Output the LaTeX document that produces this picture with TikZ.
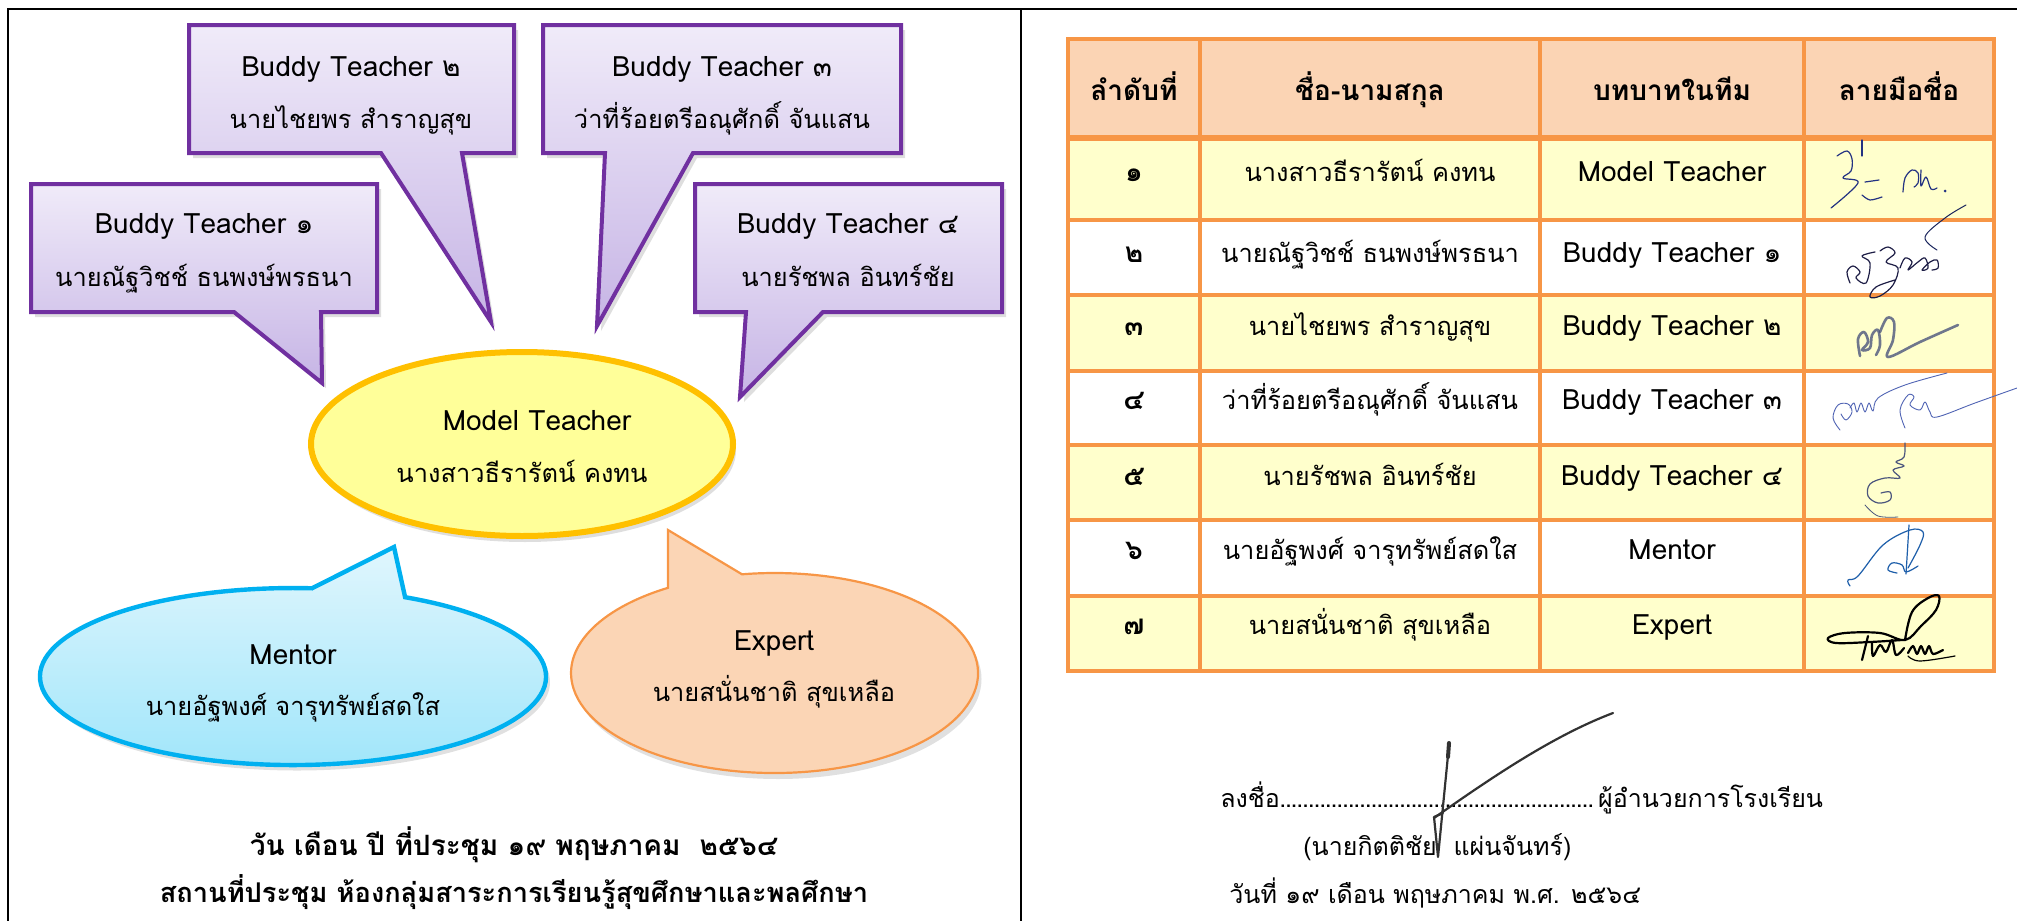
\documentclass[tikz,border=0pt]{standalone}
\usepackage{fontspec}
\setmainfont[Script=Thai]{Loma}
\definecolor{purp}{RGB}{112,48,160}
\definecolor{lavtop}{RGB}{240,235,249}
\definecolor{lavbot}{RGB}{198,180,229}
\definecolor{mtfill}{RGB}{255,255,153}
\definecolor{mtdraw}{RGB}{255,192,0}
\definecolor{cyantop}{RGB}{224,246,253}
\definecolor{cyanbot}{RGB}{158,229,250}
\definecolor{cyandraw}{RGB}{0,176,240}
\definecolor{peach}{RGB}{251,213,181}
\definecolor{tord}{RGB}{247,150,70}
\definecolor{rowyel}{RGB}{255,255,204}
\definecolor{headfill}{RGB}{251,212,180}
\definecolor{sigA}{RGB}{35,50,130}
\definecolor{sigB}{RGB}{30,30,70}
\definecolor{sigC}{RGB}{75,85,125}
\definecolor{sigD}{RGB}{80,100,180}
\definecolor{sigE}{RGB}{30,95,170}
\definecolor{sigP}{RGB}{50,50,50}
\newcommand{\mydots}[1]{\hbox to #1{\leaders\hbox to 2.85pt{\hss.\hss}\hfill}}
\tikzset{
  callout/.style={draw=purp, line width=2pt, line join=miter, top color=lavtop, bottom color=lavbot,
     preaction={fill=black, opacity=0.13, transform canvas={xshift=2pt, yshift=-2.5pt}}},
  txt/.style={anchor=base, inner sep=0pt, font=\fontsize{14}{16}\selectfont},
  thtxt/.style={anchor=base, inner sep=0pt, font=\fontsize{12.7}{15}\selectfont},
  btxt/.style={anchor=base, inner sep=0pt, font=\bfseries\fontsize{14}{16}\selectfont},
  bbtxt/.style={anchor=base, inner sep=0pt, font=\bfseries\fontsize{13.6}{16}\selectfont},
  ltxt/.style={anchor=base west, inner sep=0pt, font=\fontsize{12.5}{15}\selectfont},
  tline/.style={draw=tord, line width=2pt},
  frame/.style={draw=black, line width=1.3pt},
  sig/.style={line width=0.6pt, line cap=round, line join=round},
}
\begin{document}
\begin{tikzpicture}[x=0.5pt,y=-0.5pt]
\useasboundingbox (0,0) rectangle (2017,921);
% page frame
\draw[frame] (7,9) -- (2017,9);
\draw[frame] (8,9) -- (8,921);
\draw[frame] (1021,9) -- (1021,921);

% ---------- callouts ----------
\path[callout] (189,25) -- (514,25) -- (514,153) -- (462,153) -- (491,322) -- (381,153) -- (189,153) -- cycle;
\path[callout] (543,25) -- (901,25) -- (901,153) -- (693,153) -- (597,326) -- (605,153) -- (543,153) -- cycle;
\path[callout] (31,184) -- (377,184) -- (377,312) -- (321,312) -- (322,383) -- (234,312) -- (31,312) -- cycle;
\path[callout] (695,184) -- (1002,184) -- (1002,312) -- (823,312) -- (740,397) -- (746,312) -- (695,312) -- cycle;

% model teacher ellipse
\fill[black, opacity=0.13] (525,450) ellipse [x radius=211, y radius=92];
\draw[draw=mtdraw, fill=mtfill, line width=3pt] (522,444) ellipse [x radius=211, y radius=92];

% mentor callout
\fill[black, opacity=0.12] (297,682) ellipse [x radius=253, y radius=88.5];
\path[draw=cyandraw, line width=2.2pt, top color=cyantop, bottom color=cyanbot]
  (405.1,597.2) arc[start angle=-63.7, end angle=274.3, x radius=253, y radius=88.5]
  -- (394,547) -- cycle;

% expert callout
\fill[black, opacity=0.12] (778,679) ellipse [x radius=203.5, y radius=100];
\path[draw=tord, line width=1.1pt, fill=peach]
  (742,574.3) arc[start angle=-99.2, end angle=238.4, x radius=203.5, y radius=100]
  -- (668,530) -- cycle;

% texts in diagram
\node[txt] (bt2a) at (351,76) {Buddy Teacher ๒};
\node[thtxt] (bt2b) at (351,128) {นายไชยพร สำราญสุข};
\node[txt] (bt3a) at (722,76) {Buddy Teacher ๓};
\node[thtxt] (bt3b) at (722,128) {ว่าที่ร้อยตรีอณุศักดิ์ จันแสน};
\node[txt] (bt1a) at (204,233) {Buddy Teacher ๑};
\node[thtxt] (bt1b) at (204,286) {นายณัฐวิชช์ ธนพงษ์พรธนา};
\node[txt] (bt4a) at (848,233) {Buddy Teacher ๔};
\node[thtxt] (bt4b) at (848,286) {นายรัชพล อินทร์ชัย};
\node[txt] (mta) at (537,430) {Model Teacher};
\node[thtxt] (mtb) at (522,482) {นางสาวธีรารัตน์ คงทน};
\node[txt] (mea) at (293,664) {Mentor};
\node[thtxt] (meb) at (293,715) {นายอัฐพงศ์ จารุทรัพย์สดใส};
\node[txt] (exa) at (774,650) {Expert};
\node[thtxt] (exb) at (774,701) {นายสนั่นชาติ สุขเหลือ};
\node[btxt] (d1) at (514,855) {วัน เดือน ปี ที่ประชุม ๑๙ พฤษภาคม\ \ ๒๕๖๔};
\node[bbtxt] (d2) at (514,902) {สถานที่ประชุม ห้องกลุ่มสาระการเรียนรู้สุขศึกษาและพลศึกษา};

% ---------- table ----------
\fill[headfill] (1068,39) rectangle (1994,138);
\fill[rowyel] (1068,138) rectangle (1994,220);
\fill[white] (1068,220) rectangle (1994,295);
\fill[rowyel] (1068,295) rectangle (1994,371);
\fill[white] (1068,371) rectangle (1994,445);
\fill[rowyel] (1068,445) rectangle (1994,520);
\fill[white] (1068,520) rectangle (1994,596);
\fill[rowyel] (1068,596) rectangle (1994,671);
\foreach \yy in {220,295,371,445,520,596} \draw[tline] (1068,\yy) -- (1994,\yy);
\draw[tord, line width=3pt] (1068,138) -- (1994,138);
\foreach \xx in {1200,1540,1804} \draw[tline] (\xx,39) -- (\xx,671);
\draw[tline] (1068,39) rectangle (1994,671);

\node[btxt] (h1) at (1134,100) {ลำดับที่};
\node[btxt] (h2) at (1370,100) {ชื่อ-นามสกุล};
\node[btxt] (h3) at (1672,100) {บทบาทในทีม};
\node[btxt] (h4) at (1899,100) {ลายมือชื่อ};

\node[btxt]  (n1) at (1134,181) {๑};
\node[thtxt] (m1) at (1370,181) {นางสาวธีรารัตน์ คงทน};
\node[txt]   (r1) at (1672,181) {Model Teacher};
\node[btxt]  (n2) at (1134,262) {๒};
\node[thtxt] (m2) at (1370,262) {นายณัฐวิชช์ ธนพงษ์พรธนา};
\node[txt]   (r2) at (1672,262) {Buddy Teacher ๑};
\node[btxt]  (n3) at (1134,335) {๓};
\node[thtxt] (m3) at (1370,335) {นายไชยพร สำราญสุข};
\node[txt]   (r3) at (1672,335) {Buddy Teacher ๒};
\node[btxt]  (n4) at (1134,409) {๔};
\node[thtxt] (m4) at (1370,409) {ว่าที่ร้อยตรีอณุศักดิ์ จันแสน};
\node[txt]   (r4) at (1672,409) {Buddy Teacher ๓};
\node[btxt]  (n5) at (1134,485) {๕};
\node[thtxt] (m5) at (1370,485) {นายรัชพล อินทร์ชัย};
\node[txt]   (r5) at (1672,485) {Buddy Teacher ๔};
\node[btxt]  (n6) at (1134,559) {๖};
\node[thtxt] (m6) at (1370,559) {นายอัฐพงศ์ จารุทรัพย์สดใส};
\node[txt]   (r6) at (1672,559) {Mentor};
\node[btxt]  (n7) at (1134,634) {๗};
\node[thtxt] (m7) at (1370,634) {นายสนั่นชาติ สุขเหลือ};
\node[txt]   (r7) at (1672,634) {Expert};

% ---------- signatures ----------
% row 1
\draw[sig, sigA] (1862,140) -- (1862,156);
\draw[sig, sigA] plot[smooth, tension=0.6] coordinates {(1837,156) (1847,151) (1852,159) (1851,171) (1843,178) (1858,183) (1831,208)};
\draw[sig, sigA] (1865,182) -- (1879,180);
\draw[sig, sigA] plot[smooth, tension=0.5] coordinates {(1862,195) (1870,200) (1882,197)};
\draw[sig, sigA] plot[smooth, tension=0.6] coordinates {(1903,192) (1905,178) (1912,170) (1918,173) (1918,183) (1914,187)};
\draw[sig, sigA] plot[smooth, tension=0.6] coordinates {(1921,170) (1921,186) (1926,177) (1931,189) (1937,188)};
\fill[sigA] (1945,191) circle [radius=1.5];
\draw[sig, sigA!70!black, line width=0.5pt] plot[smooth, tension=0.6] coordinates {(1966,205) (1945,218) (1925,237) (1937,250)};
% row 2
\draw[sig, sigB] plot[smooth, tension=0.6] coordinates {(1850,283) (1847,272) (1853,266) (1860,272) (1856,278) (1866,283) (1870,263) (1862,256) (1875,252)};
\draw[sig, sigB] plot[smooth, tension=0.6] coordinates {(1880,251) (1888,247) (1895,253) (1886,262) (1898,268) (1893,285) (1880,296) (1870,297) (1876,287) (1895,280)};
\draw[sig, sigB] plot[smooth, tension=0.6] coordinates {(1900,268) (1905,258) (1912,262) (1908,270) (1918,262) (1925,258) (1928,268) (1922,270) (1930,262) (1937,260) (1938,268) (1932,270)};
% row 3
\draw[sig, sigC, line width=1.3pt, opacity=0.8] plot[smooth, tension=0.6] coordinates {(1860,356) (1858,339) (1864,332) (1868,342) (1862,350) (1870,348) (1872,335) (1878,330) (1880,345) (1876,355)};
\draw[sig, sigC, line width=1.3pt, opacity=0.8] plot[smooth, tension=0.6] coordinates {(1880,332) (1887,318) (1894,322) (1893,340) (1888,357) (1920,342) (1958,325)};
% row 4
\draw[sig, sigD, line width=0.45pt] plot[smooth, tension=0.6] coordinates {(1840,430) (1833,418) (1838,405) (1848,404) (1852,412) (1846,420) (1841,414)};
\draw[sig, sigD, line width=0.45pt] plot[smooth, tension=0.6] coordinates {(1850,408) (1854,403) (1857,412) (1861,403) (1865,412) (1869,403) (1873,411) (1878,398) (1905,385) (1947,373)};
\draw[sig, sigD, line width=0.45pt] plot[smooth, tension=0.6] coordinates {(1905,428) (1900,410) (1908,395) (1914,397) (1910,405) (1920,410) (1925,402) (1930,412) (1937,417) (1975,403) (2017,388)};
% row 5
\draw[sig, sigC] plot[smooth, tension=0.6] coordinates {(1905,443) (1904,457) (1896,462) (1904,466) (1893,470) (1900,478) (1885,478) (1870,484) (1868,496) (1878,503) (1890,500) (1890,492) (1881,493)};
\draw[sig, sigC, line width=0.4pt] plot[smooth, tension=0.6] coordinates {(1865,505) (1878,516) (1898,517)};
% row 6
\draw[sig, sigE] plot[smooth, tension=0.6] coordinates {(1850,586) (1848,580) (1858,576) (1883,545) (1910,530) (1923,532) (1920,545) (1908,568)};
\draw[sig, sigE] (1909,525) -- (1906,574);
\draw[sig, sigE] plot[smooth, tension=0.6] coordinates {(1897,573) (1888,570) (1892,563) (1902,565) (1906,572) (1918,566)};
% row 7
\draw[sig, black, line width=1.1pt] plot[smooth, tension=0.6] coordinates {(1905,640) (1912,612) (1928,598) (1939,596) (1936,610) (1921,626) (1905,640) (1880,633) (1845,633) (1828,638) (1836,643) (1870,642) (1902,640)};
\draw[sig, black, line width=1.1pt] (1868,636) -- (1862,660);
\draw[sig, black, line width=1.1pt] plot[smooth, tension=0.6] coordinates {(1872,642) (1873,656) (1880,645) (1886,652) (1892,640) (1896,655) (1904,648)};
\draw[sig, black, line width=1.1pt] plot[smooth, tension=0.5] coordinates {(1908,653) (1913,646) (1917,654) (1921,646) (1925,654) (1929,646) (1933,654) (1943,650)};
\draw[sig, black, line width=0.6pt] plot[smooth, tension=0.6] coordinates {(1908,656) (1920,661) (1955,656)};

% ---------- signing block ----------
\node[ltxt] (sgn) at (1220,807) {ลงชื่อ\mydots{159pt}ผู้อำนวยการโรงเรียน};
\node[ltxt] (sgname) at (1303,855) {(นายกิตติชัย\ \ แผ่นจันทร์)};
\node[ltxt] (sgdate) at (1229,903) {วันที่ ๑๙ เดือน พฤษภาคม พ.ศ. ๒๕๖๔};
\draw[sigP, line width=2pt, line cap=round] (1449,743) -- (1448,757);
\draw[sigP, line width=1.1pt, line cap=round, line join=round] (1449,745) -- (1438,857) -- (1434,817) -- (1443,813);
\draw[sigP, line width=1.1pt, line cap=round] (1434,818) .. controls (1495,775) and (1555,735) .. (1613,713);
\end{tikzpicture}
\end{document}
